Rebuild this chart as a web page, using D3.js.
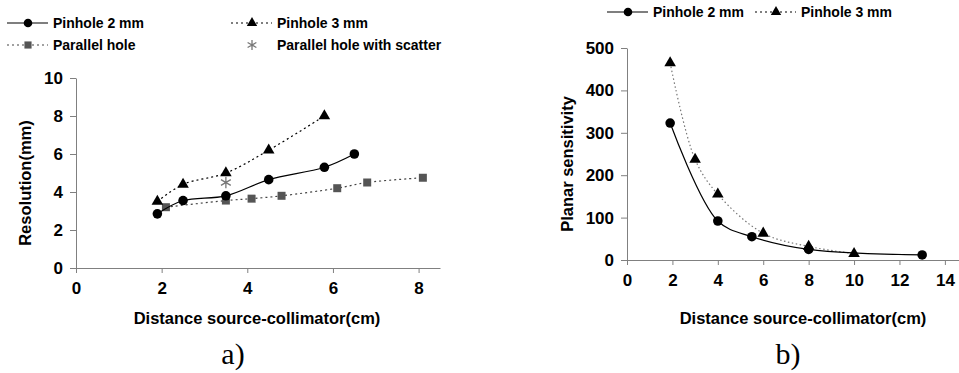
<!DOCTYPE html>
<html>
<head>
<meta charset="utf-8">
<script src="https://cdn.jsdelivr.net/npm/d3@7"></script>
<style>
  body { margin: 0; background: #fff; }
  text { font-family: "Liberation Sans", Arial, sans-serif; font-weight: bold; fill: #000; }
  .cap { font-family: "Liberation Serif", "Times New Roman", serif; font-weight: normal; }
  .axis path, .axis line { stroke: #808080; }
</style>
</head>
<body>
<script>
// panel a) resolution vs distance
const resX2 = [1.9, 2.5, 3.5, 4.5, 5.8, 6.5]
const resY2 = [2.85, 3.55, 3.8, 4.65, 5.3, 6.0]
const resX3 = [1.9, 2.5, 3.5, 4.5, 5.8]
const resY3 = [3.5, 4.4, 5.0, 6.2, 8.0]
const parX = [2.1, 3.5, 4.1, 4.8, 6.1, 6.8, 8.1]
const parY = [3.2, 3.55, 3.65, 3.8, 4.2, 4.5, 4.75]
const scatX = [3.5]
const scatY = [4.5]
const resXTicks = [0, 2, 4, 6, 8]
const resYTicks = [0, 2, 4, 6, 8, 10]

// panel b) planar sensitivity vs distance
const sensX2 = [1.9, 4, 5.5, 8, 13]
const sensY2 = [323, 92, 55, 25, 12]
const sensX3 = [1.9, 3, 4, 6, 8, 10]
const sensY3 = [465, 237, 155, 63, 32, 15]
const sensXTicks = [0, 2, 4, 6, 8, 10, 12, 14]
const sensYTicks = [0, 100, 200, 300, 400, 500]

const zip = (xs, ys) => xs.map((x, i) => ({ x, y: ys[i] }))

const svg = d3.select("body").append("svg")
  .attr("width", 959)
  .attr("height", 373)

const sym = (type, size) => d3.symbol().type(type).size(size)()

const drawAxes = (x, y, xTicks, yTicks, yTitle, yTitleX, xTitleX, cap, capX) => {
  const [y0] = y.range()
  const [x0] = x.range()

  const gx = svg.append("g")
    .attr("class", "axis")
    .attr("transform", "translate(0," + y0 + ")")
    .call(d3.axisBottom(x).tickValues(xTicks).tickSizeInner(5).tickSizeOuter(0).tickPadding(9))
  gx.selectAll("text").style("font-size", "17px").attr("fill", "#000")

  const gy = svg.append("g")
    .attr("class", "axis")
    .attr("transform", "translate(" + x0 + ",0)")
    .call(d3.axisLeft(y).tickValues(yTicks).tickSizeInner(6).tickSizeOuter(0).tickPadding(7))
  gy.selectAll("text").style("font-size", "17px").attr("fill", "#000")
  gx.select(".domain").attr("stroke", "#888")
  gy.select(".domain").attr("stroke", "#888")

  svg.append("text")
    .attr("transform", "translate(" + yTitleX + "," + ((y.range()[0] + y.range()[1]) / 2 + 10) + ") rotate(-90)")
    .attr("text-anchor", "middle")
    .attr("dy", "0.35em")
    .style("font-size", "16.5px")
    .text(yTitle)

  svg.append("text")
    .attr("x", xTitleX)
    .attr("y", 324)
    .attr("text-anchor", "middle")
    .style("font-size", "16.5px")
    .text("Distance source-collimator(cm)")

  svg.append("text")
    .attr("class", "cap")
    .attr("x", capX)
    .attr("y", 364)
    .attr("text-anchor", "middle")
    .style("font-size", "30px")
    .text(cap)
}

const drawSeries = (x, y, data, opts) => {
  if (opts.line) {
    const line = d3.line()
      .x(d => x(d.x))
      .y(d => y(d.y))
      .curve(d3.curveCatmullRom.alpha(0.5))
    svg.append("path")
      .datum(data)
      .attr("d", line)
      .attr("fill", "none")
      .attr("stroke", opts.stroke)
      .attr("stroke-width", opts.width || 1.2)
      .attr("stroke-dasharray", opts.dash || null)
  }
  svg.append("g").selectAll("path")
    .data(data)
    .enter().append("path")
    .attr("transform", d => "translate(" + x(d.x) + "," + y(d.y) + ")")
    .attr("d", sym(opts.symbol, opts.size))
    .attr("fill", opts.stroked ? "none" : opts.fill)
    .attr("stroke", opts.stroked ? opts.fill : null)
    .attr("stroke-width", opts.stroked ? 1.3 : null)
}

const legendItem = (lx, ly, label, opts) => {
  if (opts.line) {
    svg.append("line")
      .attr("x1", lx).attr("x2", lx + 41)
      .attr("y1", ly).attr("y2", ly)
      .attr("stroke", opts.stroke)
      .attr("stroke-width", 1.2)
      .attr("stroke-dasharray", opts.dash || null)
  }
  svg.append("path")
    .attr("transform", "translate(" + (lx + 21) + "," + ly + ")")
    .attr("d", sym(opts.symbol, opts.size * 0.8))
    .attr("fill", opts.stroked ? "none" : opts.fill)
    .attr("stroke", opts.stroked ? opts.fill : null)
    .attr("stroke-width", opts.stroked ? 1.3 : null)
  svg.append("text")
    .attr("x", lx + 46)
    .attr("y", ly)
    .attr("dy", "0.35em")
    .style("font-size", "14px")
    .text(label)
}

const circleOpts = { line: true, stroke: "#000", symbol: d3.symbolCircle, size: 72, fill: "#000" }
const triOpts = { line: true, stroke: "#000", dash: "2,3", symbol: d3.symbolTriangle, size: 58, fill: "#000" }
const sqOpts = { line: true, stroke: "#444", dash: "2,3", symbol: d3.symbolSquare, size: 64, fill: "#555" }
const starOpts = { line: false, symbol: d3.symbolAsterisk, size: 90, fill: "#777", stroked: true }

// panel a)
const xa = d3.scaleLinear().domain([0, 8.5]).range([76, 440])
const ya = d3.scaleLinear().domain([0, 10]).range([268, 78])
drawAxes(xa, ya, resXTicks, resYTicks, "Resolution(mm)", 25, 257, "a)", 233)
drawSeries(xa, ya, zip(parX, parY), sqOpts)
drawSeries(xa, ya, zip(resX3, resY3), triOpts)
drawSeries(xa, ya, zip(resX2, resY2), circleOpts)
drawSeries(xa, ya, zip(scatX, scatY), starOpts)

legendItem(7, 23, "Pinhole 2 mm", circleOpts)
legendItem(231, 23, "Pinhole 3 mm", triOpts)
legendItem(7, 45, "Parallel hole", sqOpts)
legendItem(231, 45, "Parallel hole with scatter", starOpts)

// panel b)
const xb = d3.scaleLinear().domain([0, 14.6]).range([627, 958.5])
const yb = d3.scaleLinear().domain([0, 500]).range([260, 48])
drawAxes(xb, yb, sensXTicks, sensYTicks, "Planar sensitivity", 567, 803, "b)", 788)
const tri3b = Object.assign({}, triOpts, { stroke: "#777", dash: "1.5,2.5" })
drawSeries(xb, yb, zip(sensX3, sensY3), tri3b)
drawSeries(xb, yb, zip(sensX2, sensY2), circleOpts)

legendItem(607, 12, "Pinhole 2 mm", circleOpts)
legendItem(755, 12, "Pinhole 3 mm", triOpts)
</script>
</body>
</html>
